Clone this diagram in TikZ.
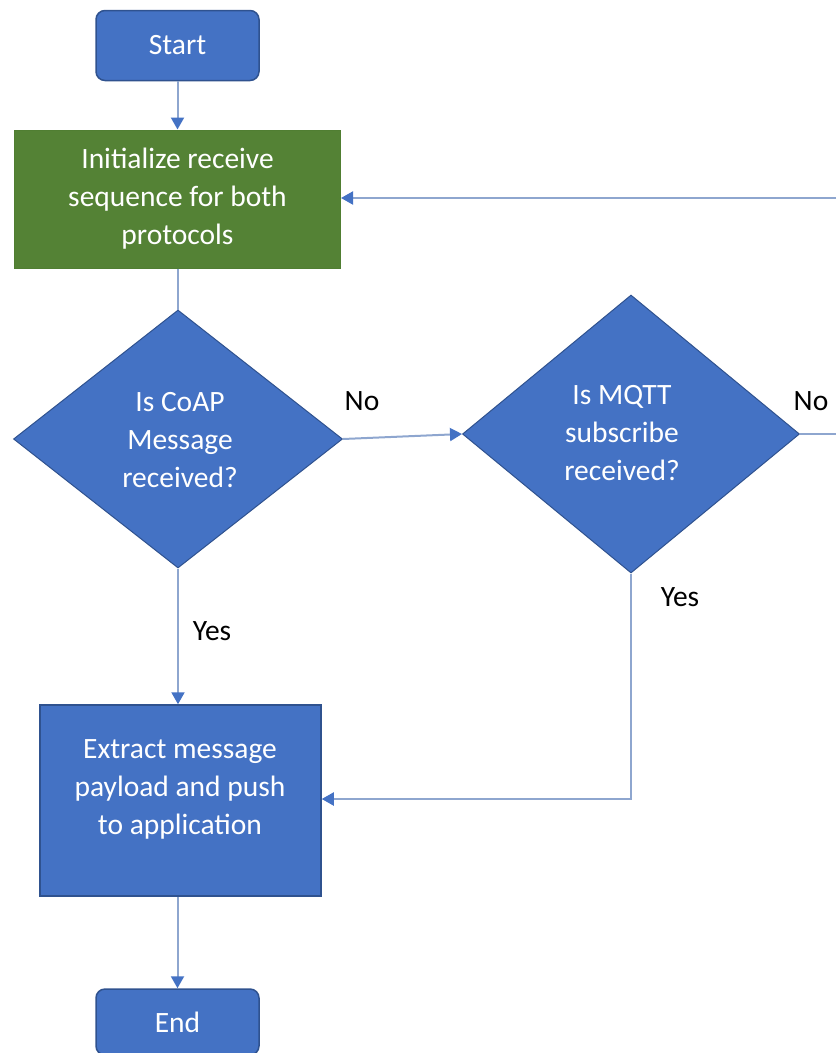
\documentclass[tikz,border=0pt]{standalone}
\usepackage{fontspec}
\setmainfont{Carlito}
\usetikzlibrary{shapes.geometric,arrows.meta}
\definecolor{boxblue}{HTML}{4472C4}
\definecolor{boxedge}{HTML}{2F528F}
\definecolor{boxgreen}{HTML}{548235}
\definecolor{greenedge}{HTML}{507E32}
\definecolor{conn}{HTML}{8EA6CF}
\begin{document}
\begin{tikzpicture}[x=1pt,y=-1pt,
  every node/.style={font=\fontsize{29.5}{38}\selectfont},
  term/.style={draw=boxedge,fill=boxblue,text=white,rounded corners=9pt,line width=1.5pt,minimum width=163pt,minimum height=70pt,inner sep=0pt},
  proc/.style={draw=boxedge,fill=boxblue,text=white,line width=1.5pt,inner sep=0pt,align=center},
  green/.style={draw=greenedge,fill=boxgreen,text=white,line width=1pt,inner sep=0pt,align=center},
  dec/.style={diamond,draw=boxedge,fill=boxblue,text=white,line width=1pt,inner sep=0pt,align=center},
  conn/.style={draw=conn,line width=2pt},
  arr/.style={conn,-{Triangle[length=12pt,width=13pt,fill=boxblue,color=boxblue]}},
  lbl/.style={text=black}
]
\useasboundingbox (0,0) rectangle (836,1053);
\node[term] (start) at (177.5,45.5) {Start};
\node[green,minimum width=326pt,minimum height=138pt] (init) at (177.5,199) {Initialize receive\\sequence for both\\protocols};
\node[dec,minimum width=329pt,minimum height=258pt] (coap) at (178,439) {};
\node[text=white,align=center] at (180,440) {Is CoAP\\Message\\received?};
\node[dec,minimum width=337pt,minimum height=278pt] (mqtt) at (631,434) {};
\node[text=white,align=center] at (622,433) {Is MQTT\\subscribe\\received?};
\node[proc,minimum width=281pt,minimum height=191pt] (extract) at (180.5,800.5) {};
\node[text=white,align=center] at (180,789) {Extract message\\payload and push\\to application};
\node[term,minimum height=66pt] (end) at (177.5,1022) {End};
\node[lbl] (no1) at (362,401) {No};
\node[lbl] (no2) at (811,401) {No};
\node[lbl] (yes1) at (212,631) {Yes};
\node[lbl] (yes2) at (680,597) {Yes};
\coordinate (rout) at (836,434);
\coordinate (rin) at (836,198);
\coordinate (corner) at (631,799);

\draw[arr] (start.south) -- (init.north);
\draw[conn] (init.south) -- (init.south |- coap.north);
\draw[arr] (coap.east) -- (mqtt.west);
\draw[conn] (mqtt.east) -- (rout);
\draw[arr] (rin) -- (init.east |- rin);
\draw[arr] (coap.south) -- (extract.north -| coap.south);
\draw[arr] (mqtt.south) -- (corner) -- (extract.east |- corner);
\draw[arr] (extract.south -| end.north) -- (end.north);
\end{tikzpicture}
\end{document}
